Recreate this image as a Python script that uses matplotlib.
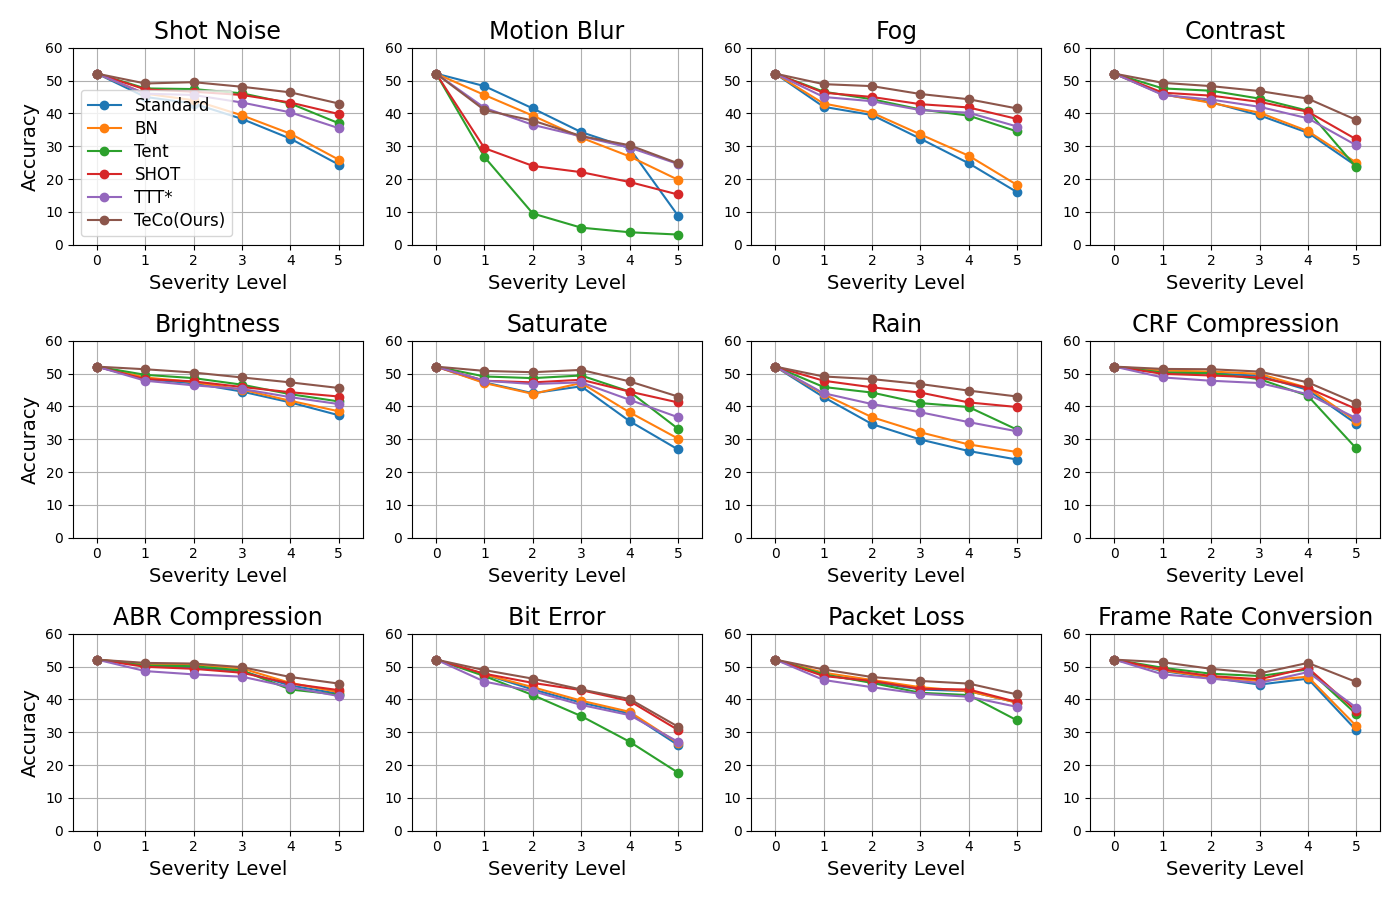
import matplotlib
matplotlib.use("Agg")
import matplotlib.pyplot as plt

# Уровни искажения
severity = [0, 1, 2, 3, 4, 5]
methods = ["Standard", "BN", "Tent", "SHOT", "TTT*", "TeCo(Ours)"]
colors = ["#1f77b4", "#ff7f0e", "#2ca02c", "#d62728", "#9467bd", "#8c564b"]

titles = [
    "Shot Noise", "Motion Blur", "Fog", "Contrast",
    "Brightness", "Saturate", "Rain", "CRF Compression",
    "ABR Compression", "Bit Error", "Packet Loss", "Frame Rate Conversion",
]

# Значения точности: порядок Standard, BN, Tent, SHOT, TTT*, TeCo
shot_noise = [
    [52.1, 45.0, 43.0, 38.3, 32.3, 24.4],
    [52.1, 46.0, 44.0, 39.4, 33.8, 25.9],
    [52.1, 47.6, 47.4, 46.1, 43.0, 37.0],
    [52.1, 47.3, 46.6, 45.6, 43.3, 39.8],
    [52.1, 46.0, 45.6, 43.3, 40.3, 35.5],
    [52.1, 49.1, 49.5, 48.1, 46.4, 43.0],
]
motion_blur = [
    [52.1, 48.3, 41.5, 34.3, 29.4, 8.9],
    [52.1, 45.6, 39.3, 32.6, 26.9, 19.8],
    [52.1, 26.7, 9.5, 5.2, 3.8, 3.1],
    [52.1, 29.4, 24.0, 22.1, 19.1, 15.3],
    [52.1, 41.7, 36.5, 33.0, 29.6, 24.6],
    [52.1, 41.0, 37.8, 33.1, 30.3, 24.8],
]
fog = [
    [52.1, 42.0, 39.5, 32.3, 24.8, 16.0],
    [52.1, 43.0, 40.2, 33.6, 27.1, 18.2],
    [52.1, 46.6, 44.3, 41.2, 39.3, 34.5],
    [52.1, 46.3, 45.0, 42.8, 41.8, 38.3],
    [52.1, 45.0, 43.7, 41.0, 40.2, 36.0],
    [52.1, 48.9, 48.3, 45.9, 44.3, 41.5],
]
contrast = [
    [52.1, 45.8, 43.4, 39.4, 34.1, 24.0],
    [52.1, 45.8, 43.2, 40.2, 34.6, 25.0],
    [52.1, 47.6, 46.9, 44.5, 40.8, 23.6],
    [52.1, 46.3, 45.4, 43.5, 40.5, 32.1],
    [52.1, 45.6, 44.2, 42.0, 38.5, 30.3],
    [52.1, 49.3, 48.3, 46.8, 44.5, 38.0],
]
brightness = [
    [52.1, 48.3, 47.0, 44.5, 41.2, 37.3],
    [52.1, 48.8, 47.4, 45.1, 41.7, 38.5],
    [52.1, 49.6, 48.6, 46.6, 43.7, 41.5],
    [52.1, 48.3, 47.6, 45.9, 44.3, 43.0],
    [52.1, 47.8, 46.4, 45.3, 42.8, 40.7],
    [52.1, 51.3, 50.3, 48.8, 47.3, 45.6],
]
saturate = [
    [52.1, 47.3, 44.0, 46.1, 35.5, 26.9],
    [52.1, 47.1, 43.8, 47.1, 38.2, 30.2],
    [52.1, 49.1, 48.6, 49.4, 44.5, 33.2],
    [52.1, 47.8, 47.3, 48.1, 44.5, 41.2],
    [52.1, 47.8, 46.8, 47.3, 42.0, 36.7],
    [52.1, 50.8, 50.4, 51.1, 47.6, 43.0],
]
rain = [
    [52.1, 42.8, 34.6, 29.9, 26.4, 23.8],
    [52.1, 43.7, 36.7, 32.1, 28.4, 26.1],
    [52.1, 45.9, 44.2, 41.0, 39.8, 32.9],
    [52.1, 47.8, 45.8, 44.2, 41.2, 39.8],
    [52.1, 44.0, 40.7, 38.2, 35.2, 32.4],
    [52.1, 49.1, 48.3, 46.8, 44.8, 43.0],
]
crf = [
    [52.1, 50.3, 50.1, 49.3, 45.0, 34.7],
    [52.1, 50.9, 50.6, 49.9, 45.6, 35.5],
    [52.1, 50.3, 50.1, 48.3, 43.2, 27.2],
    [52.1, 49.9, 49.4, 48.8, 45.6, 39.2],
    [52.1, 48.8, 47.8, 47.1, 43.7, 36.4],
    [52.1, 51.4, 51.3, 50.6, 47.3, 41.0],
]
abr = [
    [52.1, 50.3, 49.6, 48.6, 44.2, 41.7],
    [52.1, 50.8, 50.6, 49.4, 45.0, 42.2],
    [52.1, 50.3, 50.1, 48.8, 43.0, 41.4],
    [52.1, 49.9, 49.3, 48.1, 44.8, 42.8],
    [52.1, 48.6, 47.6, 46.9, 43.7, 41.0],
    [52.1, 51.1, 50.9, 49.8, 46.8, 44.8],
]
bit_error = [
    [52.1, 47.6, 43.0, 39.0, 35.7, 26.1],
    [52.1, 47.6, 43.7, 39.6, 36.2, 26.7],
    [52.1, 47.1, 41.3, 34.9, 27.1, 17.7],
    [52.1, 47.8, 45.0, 42.8, 39.5, 30.7],
    [52.1, 45.4, 42.5, 38.3, 35.2, 27.1],
    [52.1, 48.9, 46.3, 43.0, 40.1, 31.7],
]
packet_loss = [
    [52.1, 47.4, 45.3, 43.0, 42.5, 39.0],
    [52.1, 48.1, 45.9, 43.7, 42.5, 39.0],
    [52.1, 47.6, 45.0, 42.0, 41.3, 33.6],
    [52.1, 47.1, 45.6, 43.2, 43.0, 39.2],
    [52.1, 45.9, 43.7, 41.7, 40.8, 37.7],
    [52.1, 49.1, 46.8, 45.6, 44.8, 41.5],
]
frame_rate = [
    [52.1, 48.6, 46.6, 44.5, 46.3, 30.6],
    [52.1, 48.8, 46.8, 45.6, 46.9, 31.9],
    [52.1, 49.6, 47.8, 47.1, 49.1, 35.5],
    [52.1, 49.1, 47.1, 46.1, 49.6, 36.5],
    [52.1, 47.6, 46.3, 45.0, 48.3, 37.5],
    [52.1, 51.3, 49.3, 47.9, 51.1, 45.3],
]

all_data = [
    shot_noise, motion_blur, fog, contrast,
    brightness, saturate, rain, crf,
    abr, bit_error, packet_loss, frame_rate,
]

fig, axes = plt.subplots(3, 4, figsize=(14, 9), dpi=100)
fig.subplots_adjust(left=0.052, right=0.986, top=0.947, bottom=0.077,
                    wspace=0.169, hspace=0.487)

for i, ax in enumerate(axes.flat):
    for name, vals, c in zip(methods, all_data[i], colors):
        ax.plot(severity, vals, marker="o", color=c, label=name)
    ax.set_title(titles[i], fontsize=17)
    ax.set_xlabel("Severity Level", fontsize=14)
    if i % 4 == 0:
        ax.set_ylabel("Accuracy", fontsize=14)
    ax.set_xlim(-0.5, 5.5)
    ax.set_ylim(0, 60)
    ax.set_xticks(severity)
    ax.set_yticks(range(0, 61, 10))
    ax.grid(True)
    if i == 0:
        ax.legend(loc="lower left", fontsize=12, labelspacing=0.3,
                  borderaxespad=0.5)

plt.savefig("out.png", dpi=100)
plt.close()
